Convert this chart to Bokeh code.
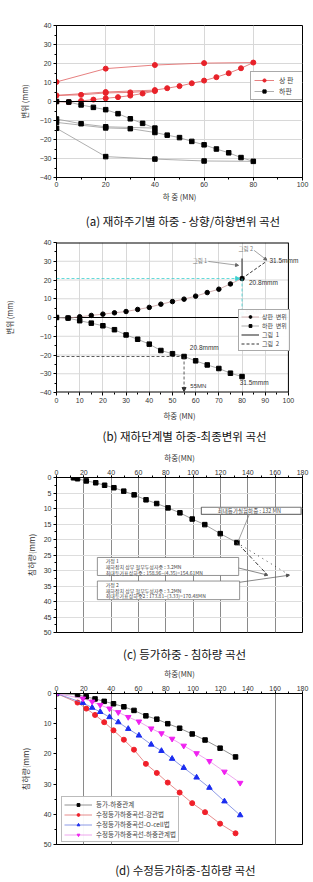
from bokeh.plotting import figure
from bokeh.layouts import column
from bokeh.models import (Range1d, SingleIntervalTicker, FixedTicker, Span, Arrow,
                          NormalHead, Label, Legend, LegendItem)
from bokeh.embed import file_html
from bokeh.resources import INLINE

KR = "Noto Sans CJK KR"
NUM = "Liberation Sans"

# ---- (a) load cycles: upper / lower plate displacement ----
a_upper_load = [0, 5, 10, 15, 20, 25, 30, 35, 40, 30, 20, 10, 0, 20, 40, 45, 50, 55,
                60, 65, 70, 75, 80, 60, 40, 20, 0]
a_upper_disp = [0, -0.3, 0.3, 1.0, 1.7, 2.3, 3.1, 4.2, 5.5, 4.8, 4.5, 3.5, 3.2, 5.0, 6.0,
                7.0, 8.1, 9.6, 11.0, 12.8, 14.9, 17.5, 20.5, 20.2, 19.2, 17.3, 10.3]
a_lower_load = [0, 5, 10, 15, 20, 25, 30, 35, 40, 20, 10, 0, 0, 20, 30, 40, 45, 50, 55,
                60, 65, 70, 75, 80, 60, 40, 20, 0]
a_lower_disp = [0, -0.3, -1.8, -3.1, -4.3, -6.4, -9.1, -11.5, -14.0, -13.3, -11.7, -9.2,
                -11.0, -13.9, -14.3, -16.3, -17.7, -19.0, -21.0, -22.8, -25.0, -27.0,
                -29.5, -31.5, -31.3, -30.3, -29.0, -14.1]

# ---- (b) load steps: final displacement ----
b_load = [0, 5, 10, 15, 20, 25, 30, 35, 40, 45, 50, 55, 60, 65, 70, 75, 80]
b_upper_disp = [0, -0.3, 0.4, 1.1, 1.8, 2.5, 3.2, 4.3, 5.4, 7.1, 8.5, 9.8, 11.4, 13.3,
                15.1, 17.9, 20.8]
b_lower_disp = [0, -0.3, -1.7, -3.0, -4.4, -6.5, -9.3, -11.6, -14.2, -17.6, -19.3,
                -20.8, -23.1, -25.3, -27.2, -29.7, -31.5]
b_ext_end = (90, 29.5)          # end of the extrapolated branch (그림 2)

# ---- (c) equivalent load vs settlement ----
c_load = [12.4, 15.4, 21.8, 28.7, 35.2, 42.0, 49.2, 56.8, 65.5, 73.3, 81.6, 90.3,
          99.3, 108.5, 119.8, 132.0]
c_settle = [0.1, 0.4, 1.1, 1.7, 2.5, 3.3, 4.4, 5.6, 7.2, 8.4, 9.8, 11.4, 13.4, 15.2,
            18.1, 21.0]
c_est_load = [154.61, 170.48]
c_est_settle = [31.5, 31.5]

# ---- (d) modified equivalent load vs settlement ----
d_eq_load = [0, 15.4, 21.8, 28.2, 34.9, 41.7, 49.3, 56.7, 65.4, 73.4, 81.4, 90.1,
             99.3, 108.7, 119.7, 131.0]
d_eq_settle = [0, 0.4, 1.1, 1.8, 2.6, 3.4, 4.4, 5.6, 7.4, 8.5, 10.0, 11.5, 13.4, 15.4,
               18.1, 21.0]
d_pipe_settle = [0, 3.0, 5.0, 7.1, 9.5, 12.2, 15.3, 18.6, 23.3, 26.3, 29.5, 32.8, 36.3,
                 39.3, 43.1, 46.3]
d_mod_load = [0, 19.3, 26.1, 32.0, 38.8, 45.2, 52.5, 60.3, 69.3, 76.8, 84.6, 93.1,
              102.5, 111.9, 122.9, 134.4]
d_ocell_settle = [0, 3.1, 4.7, 6.1, 7.8, 9.5, 11.7, 13.9, 16.9, 19.0, 21.6, 24.6, 27.8,
                  31.2, 35.7, 40.3]
d_rel_settle = [0, 1.7, 2.7, 3.8, 5.0, 6.2, 7.8, 9.3, 11.6, 13.2, 15.0, 17.3, 19.8,
                22.4, 25.9, 29.6]
d_grid_x = [20, 40, 160]

a_xticks, a_yticks = 20, 10
b_xticks, b_yticks = 10, 10
c_xticks, c_yticks = 20, 5
d_xticks, d_yticks = 20, 10

captions = ["(a) 재하주기별 하중 - 상향/하향변위 곡선",
            "(b) 재하단계별 하중-최종변위 곡선",
            "(c) 등가하중 - 침하량 곡선",
            "(d) 수정등가하중-침하량 곡선"]


def make_fig(height, xr, yr, ml, mr, mt, mb, above=False):
    p = figure(width=313, height=height, x_range=Range1d(*xr), y_range=Range1d(*yr),
               output_backend="svg", toolbar_location=None,
               min_border_left=ml, min_border_right=mr,
               min_border_top=mt, min_border_bottom=mb,
               x_axis_location="above" if above else "below")
    p.background_fill_color = "white"
    p.border_fill_color = "white"
    p.outline_line_color = "black"
    p.outline_line_width = 1
    for ax in p.axis:
        ax.major_label_text_font = NUM
        ax.major_label_text_font_size = "7px"
        ax.major_label_text_color = "#333333"
        ax.axis_label_text_font = KR
        ax.axis_label_text_font_size = "7.5px"
        ax.axis_label_text_font_style = "normal"
        ax.axis_label_text_color = "#333333"
        ax.axis_line_color = "black"
        ax.major_tick_in = 0
        ax.major_tick_out = 3
        ax.minor_tick_in = 0
        ax.minor_tick_out = 2
        ax.major_label_standoff = 2
        ax.major_tick_line_color = "black"
        ax.minor_tick_line_color = "black"
    return p


def set_ticks(p, xi, yi):
    p.xaxis.ticker = SingleIntervalTicker(interval=xi, num_minor_ticks=2)
    p.yaxis.ticker = SingleIntervalTicker(interval=yi, num_minor_ticks=2)


def caption_fig(text, h, cx):
    c = figure(width=313, height=h, x_range=Range1d(0, 313), y_range=Range1d(0, h),
               x_axis_type=None, y_axis_type=None, output_backend="svg",
               toolbar_location=None, min_border=0)
    c.outline_line_color = None
    c.background_fill_color = "white"
    c.border_fill_color = "white"
    c.add_layout(Label(x=cx, y=h / 2, text=text, text_font=KR, text_font_size="11.5px",
                       text_color="#111111", text_align="center", text_baseline="middle"))
    return c


def note(p, x, y, text, size="6.5px", color="#333333", align="left", font=NUM):
    p.add_layout(Label(x=x, y=y, text=text, text_font=font, text_font_size=size,
                       text_color=color, text_align=align, text_baseline="middle"))


def arrow(p, x0, y0, x1, y1, color, dash="solid", size=4, width=0.8):
    p.add_layout(Arrow(end=NormalHead(size=size, fill_color=color, line_color=color),
                       x_start=x0, y_start=y0, x_end=x1, y_end=y1,
                       line_color=color, line_width=width, line_dash=dash))


# ================= (a) =================
pa = make_fig(208, (0, 100), (-40, 40), 48, 9, 25, 31)
set_ticks(pa, a_xticks, a_yticks)
pa.grid.grid_line_color = "#d8d8d8"
pa.xaxis.axis_label = "하 중 (MN)"
pa.yaxis.axis_label = "변위 (mm)"
pa.xaxis.major_label_standoff = 1
pa.xaxis.axis_label_standoff = 1
pa.yaxis.axis_label_standoff = 7
pa.add_layout(Span(location=0, dimension="width", line_color="black", line_width=1))
ra_l = pa.line(a_upper_load, a_upper_disp, line_color="#e06060", line_width=0.8)
ra_p = pa.scatter(a_upper_load, a_upper_disp, marker="circle", size=5,
                  fill_color="#e8222a", line_color="#e8222a")
rb_l = pa.line(a_lower_load, a_lower_disp, line_color="#9a9a9a", line_width=0.8)
rb_p = pa.scatter(a_lower_load, a_lower_disp, marker="square", size=4.5,
                  fill_color="black", line_color="black")
leg_a = Legend(items=[LegendItem(label="상 판", renderers=[ra_l, ra_p]),
                      LegendItem(label="하판", renderers=[rb_l, rb_p])],
               location=(194, 77), margin=0, padding=3, spacing=1,
               label_text_font=KR, label_text_font_size="7px",
               label_height=8, glyph_height=8, glyph_width=20, label_standoff=5,
               border_line_color="#555555", border_line_width=0.8)
pa.add_layout(leg_a)
cap_a = caption_fig(captions[0], 24, 161)

# ================= (b) =================
# the frame runs a little past 100 MN so the end labels have room; the box is drawn at 100
b_xmax = 100
b_xview = b_xmax * 262 / 247
pb = make_fig(191, (0, b_xview), (-40, 40), 48, 3, 10, 30)
pb.outline_line_color = None
pb.xaxis.axis_line_color = None
pb.xaxis.ticker = FixedTicker(ticks=list(range(0, b_xmax + 1, b_xticks)),
                              minor_ticks=list(range(0, b_xmax + 1, b_xticks // 2)))
pb.yaxis.ticker = SingleIntervalTicker(interval=b_yticks, num_minor_ticks=2)
pb.xgrid.ticker = FixedTicker(ticks=list(range(0, b_xmax + 1, b_xticks)))
pb.xgrid.grid_line_color = "#d8d8d8"
pb.ygrid.grid_line_color = None
grid_y = [y for y in range(-30, 31, b_yticks) if y != 0]
pb.segment(x0=[0] * len(grid_y), y0=grid_y, x1=[b_xmax] * len(grid_y), y1=grid_y,
           line_color="#d8d8d8", line_width=1)
pb.segment(x0=[0], y0=[0], x1=[b_xmax], y1=[0], line_color="black", line_width=1)
pb.segment(x0=[0, 0], y0=[40, -40], x1=[b_xmax, b_xmax], y1=[40, -40],
           line_color="black", line_width=2)
pb.segment(x0=[b_xmax], y0=[-40], x1=[b_xmax], y1=[40], line_color="black", line_width=1)
pb.xaxis.axis_label = "하중 (MN)"
pb.yaxis.axis_label = "변위 (mm)"
pb.xaxis.axis_label_standoff = 4
pb.yaxis.axis_label_standoff = 22

tgt_load = b_load[-1]
tgt_disp = b_upper_disp[-1]
fin_disp = -b_lower_disp[-1]
half_load = b_load[b_lower_disp.index(-tgt_disp)]

# cyan guide to the target displacement and load
arrow(pb, 0, tgt_disp, tgt_load - 1, tgt_disp, "#3cd0d0", dash="3 2", size=4)
arrow(pb, tgt_load, tgt_disp, tgt_load, 0.4, "#3cd0d0", dash="3 2", size=4)
# black guide on the lower branch
pb.segment(x0=[0], y0=[-tgt_disp], x1=[half_load], y1=[-tgt_disp],
           line_color="#333333", line_dash="3 2", line_width=0.8)
arrow(pb, half_load, -tgt_disp, half_load, -39.5, "#333333", dash="3 2", size=4)

g1 = pb.segment(x0=[tgt_load], y0=[tgt_disp], x1=[tgt_load], y1=[fin_disp],
                line_color="#444444", line_width=1.2)
g2 = pb.segment(x0=[tgt_load], y0=[tgt_disp], x1=[b_ext_end[0]], y1=[b_ext_end[1]],
                line_color="#333333", line_width=1, line_dash="3 2")

ub_l = pb.line(b_load, b_upper_disp, line_color="#c8a0a0", line_width=0.8)
ub_p = pb.scatter(b_load, b_upper_disp, marker="circle", size=4.5,
                  fill_color="black", line_color="black")
lb_l = pb.line(b_load, b_lower_disp, line_color="#999999", line_width=0.8)
lb_p = pb.scatter(b_load, b_lower_disp, marker="square", size=4.5,
                  fill_color="black", line_color="black")

note(pb, 58.7, 29.9, "그림 1", size="5.5px", color="#777777", font=KR)
arrow(pb, 65.5, 29.9, 78.5, 27.8, "#666666", size=3, width=0.6)
note(pb, 78.5, 36.8, "그림 2", size="5.5px", color="#777777", font=KR)
arrow(pb, 85.2, 35.8, 90.7, 30.6, "#666666", size=3, width=0.6)
note(pb, 91.8, 30.5, f"{fin_disp}mmm", size="6.5px")
note(pb, 83, 18.8, f"{tgt_disp}mmm", size="6.5px")
note(pb, 81.5, 3.0, f"{tgt_load}MN", size="6px")
note(pb, 57.5, -16.2, f"{tgt_disp}mmm", size="6.5px")
note(pb, 57.7, -36.3, f"{half_load}MN", size="6px")
note(pb, 79, -34.7, f"{fin_disp}mmm", size="6.5px")

leg_b = Legend(items=[LegendItem(label="상판  변위", renderers=[ub_l, ub_p]),
                      LegendItem(label="하판  변위", renderers=[lb_l, lb_p]),
                      LegendItem(label="그림  1", renderers=[g1]),
                      LegendItem(label="그림  2", renderers=[g2])],
               location=(182, 41), margin=0, padding=2, spacing=0,
               label_text_font=KR, label_text_font_size="6px",
               label_height=7, glyph_height=7, glyph_width=18, label_standoff=3,
               border_line_color="#555555", border_line_width=0.8)
pb.add_layout(leg_b)
cap_b = caption_fig(captions[1], 24, 163)

# ================= (c) =================
pc = make_fig(195, (0, 180), (50, 0), 44, 9, 30, 10, above=True)
set_ticks(pc, c_xticks, c_yticks)
pc.xgrid.grid_line_color = "#8a8a8a"
pc.ygrid.grid_line_color = "#dddddd"
pc.xaxis.axis_label = "하중(MN)"
pc.yaxis.axis_label = "침하량(mm)"
pc.xaxis.axis_label_standoff = 4
pc.yaxis.axis_label_standoff = 4
pc.yaxis.axis_label_text_font_size = "8px"
pc.xaxis.major_tick_out = 2
pc.xaxis.major_label_standoff = 1

pc.line(c_load, c_settle, line_color="#888888", line_width=0.8)
pc.scatter(c_load, c_settle, marker="square", size=4.5, fill_color="black",
           line_color="black")
# extrapolated branches towards the estimated ultimate loads
pc.segment(x0=[c_load[-1]], y0=[c_settle[-1]], x1=[c_est_load[0]], y1=[c_est_settle[0]],
           line_color="#333333", line_width=1, line_dash="4 2 1 2")
pc.segment(x0=[c_load[-1]], y0=[c_settle[-1]], x1=[c_est_load[1]], y1=[c_est_settle[1]],
           line_color="#444444", line_width=1, line_dash="1 4")

# text boxes
pc.quad(left=[106], right=[179], top=[9.6], bottom=[11.9], fill_color="white",
        line_color="#777777", line_width=1.2)
note(pc, 142.5, 10.75, f"최대등가실험하중  :  {c_load[-1]:.0f}  MN", size="5.5px",
     color="#444444", align="center", font=KR)
pc.segment(x0=[141], y0=[12.0], x1=[133], y1=[20.5], line_color="#777777", line_width=0.7)

pc.quad(left=[29.9], right=[133.3], top=[25.8], bottom=[31.6], fill_color="white",
        line_color="#777777", line_width=0.8)
pc.quad(left=[29.9], right=[134.0], top=[33.4], bottom=[39.4], fill_color="white",
        line_color="#777777", line_width=0.8)
box2 = ["가정 1", "재하장치 상부 철부두성자중  :  3.2MN",
        f"최대등가표상하중  :  158.96−(4.35)={c_est_load[0]}MN"]
box3 = ["가정 2", "재하장치 상부 철부두성자중  :  3.2MN",
        f"최대등가표상하중2  :  173.81−(3.33)={c_est_load[1]}MN"]
for i, t in enumerate(box2):
    note(pc, 36, 26.9 + 1.8 * i, t, size="5px", color="#444444", font=KR)
for i, t in enumerate(box3):
    note(pc, 36, 34.6 + 1.8 * i, t, size="5px", color="#444444", font=KR)
arrow(pc, 133.3, 29.2, c_est_load[0], c_est_settle[0], "#555555", size=3, width=0.7)
arrow(pc, 134.0, 33.8, c_est_load[1], c_est_settle[1], "#555555", size=3, width=0.7)
cap_c = caption_fig(captions[2], 22, 163)

# ================= (d) =================
pd_ = make_fig(192, (0, 180), (50, 0), 41, 11, 26, 12, above=True)
set_ticks(pd_, d_xticks, d_yticks)
pd_.xgrid.ticker = FixedTicker(ticks=d_grid_x)
pd_.xgrid.grid_line_color = "#8a8a8a"
pd_.ygrid.grid_line_color = None
pd_.xaxis.axis_label = "하중(MN)"
pd_.yaxis.axis_label = "침하량(mm)"
pd_.xaxis.axis_label_standoff = 4
pd_.yaxis.axis_label_standoff = 10
pd_.yaxis.axis_label_text_font_size = "8px"
pd_.xaxis.major_tick_out = 2
pd_.xaxis.major_label_standoff = 1

series = [
    ("등가-하중관계", d_eq_load, d_eq_settle, "square", "black", "#777777", 4.5),
    ("수정등가하중곡선-강관법", d_eq_load, d_pipe_settle, "circle", "#f0202a", "#e07070", 5),
    ("수정등가하중곡선-O-cell법", d_mod_load, d_ocell_settle, "triangle", "#1a2cf0", "#7080e0", 5.5),
    ("수정등가하중곡선-하중관계법", d_mod_load, d_rel_settle, "inverted_triangle", "#f020f0", "#e890e8", 5.5),
]
items = []
for label, xs, ys, mk, col, lcol, sz in series:
    rl = pd_.line(xs, ys, line_color=lcol, line_width=0.8)
    rp = pd_.scatter(xs, ys, marker=mk, size=sz, fill_color=col, line_color=col)
    items.append(LegendItem(label=label, renderers=[rl, rp]))
leg_d = Legend(items=items, location=(5, 2), margin=0, padding=2, spacing=0,
               label_text_font=KR, label_text_font_size="6.5px", label_text_color="#444444",
               label_height=7, glyph_height=7, glyph_width=28, label_standoff=4,
               border_line_color="#777777", border_line_width=0.8)
pd_.add_layout(leg_d)
cap_d = caption_fig(captions[3], 26, 164)

layout = column(pa, cap_a, pb, cap_b, pc, cap_c, pd_, cap_d, spacing=0)
open("out.html", "w").write(file_html(layout, INLINE))
